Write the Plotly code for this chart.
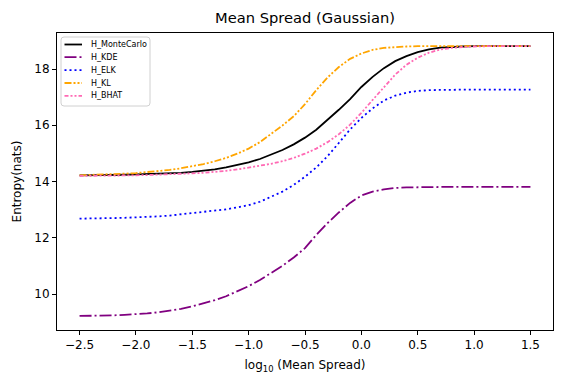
import plotly.graph_objects as go

x = [round(-2.5 + 0.1 * i, 1) for i in range(41)]

h_mc = [14.22, 14.22, 14.23, 14.23, 14.24, 14.25, 14.26, 14.27, 14.29, 14.31,
        14.34, 14.38, 14.43, 14.50, 14.58, 14.68, 14.80, 14.95, 15.12, 15.32,
        15.56, 15.84, 16.18, 16.55, 16.93, 17.36, 17.72, 18.03, 18.28, 18.46,
        18.60, 18.70, 18.76, 18.79, 18.80, 18.81, 18.81, 18.81, 18.81, 18.81, 18.81]
h_kde = [9.22, 9.22, 9.23, 9.24, 9.26, 9.28, 9.31, 9.35, 9.40, 9.47,
         9.56, 9.66, 9.78, 9.92, 10.09, 10.28, 10.50, 10.74, 11.00, 11.30,
         11.63, 12.10, 12.52, 12.90, 13.24, 13.50, 13.64, 13.72, 13.77, 13.79,
         13.80, 13.81, 13.81, 13.81, 13.81, 13.81, 13.81, 13.81, 13.81, 13.81, 13.81]
h_elk = [12.68, 12.68, 12.69, 12.70, 12.71, 12.72, 12.74, 12.76, 12.79, 12.83,
         12.87, 12.91, 12.96, 13.01, 13.08, 13.16, 13.28, 13.45, 13.64, 13.88,
         14.17, 14.50, 14.90, 15.37, 15.85, 16.26, 16.60, 16.88, 17.05, 17.16,
         17.22, 17.25, 17.26, 17.27, 17.27, 17.27, 17.27, 17.27, 17.27, 17.27, 17.27]
h_kl = [14.22, 14.23, 14.24, 14.26, 14.28, 14.30, 14.33, 14.37, 14.41, 14.47,
        14.54, 14.62, 14.72, 14.84, 14.99, 15.17, 15.40, 15.68, 15.99, 16.32,
        16.75, 17.25, 17.70, 18.07, 18.36, 18.55, 18.68, 18.75, 18.78, 18.80,
        18.81, 18.81, 18.81, 18.81, 18.81, 18.81, 18.81, 18.81, 18.81, 18.81, 18.81]
h_bhat = [14.20, 14.20, 14.21, 14.21, 14.22, 14.22, 14.23, 14.24, 14.25, 14.27,
          14.29, 14.31, 14.34, 14.38, 14.43, 14.49, 14.55, 14.63, 14.72, 14.84,
          14.99, 15.17, 15.40, 15.68, 16.02, 16.44, 16.90, 17.37, 17.80, 18.15,
          18.40, 18.58, 18.69, 18.75, 18.78, 18.80, 18.81, 18.81, 18.81, 18.81, 18.81]

x_ticks = [-2.5, -2.0, -1.5, -1.0, -0.5, 0.0, 0.5, 1.0, 1.5]
y_ticks = [10, 12, 14, 16, 18]

series = [
    ("H_MonteCarlo", h_mc, "black", "solid"),
    ("H_KDE", h_kde, "purple", "12px,3px,2px,3px"),
    ("H_ELK", h_elk, "blue", "2px,3px"),
    ("H_KL", h_kl, "orange", "7px,2px,2px,2px,2px,2px"),
    ("H_BHAT", h_bhat, "hotpink", "4px,2px,2px,2px,2px,2px"),
]

W, H = 563, 387
L, R, T, B = 57, 10, 33, 57
PW, PH = W - L - R, H - T - B


def px(xp):
    return (xp - L) / PW


def py(yp):
    return 1 - (yp - T) / PH


fig = go.Figure()
for name, ys, color, dash in series:
    fig.add_trace(go.Scatter(x=x, y=ys, mode="lines", name=name, showlegend=False,
                             hoverinfo="skip",
                             line=dict(color=color, width=1.8, dash=dash)))

# compact legend drawn in the plot's corner (matplotlib style)
shapes = []
annotations = []
bx0, bx1, by0, by1, r = 61, 150, 37, 106, 3
path = (f"M {px(bx0 + r)},{py(by0)} L {px(bx1 - r)},{py(by0)} "
        f"Q {px(bx1)},{py(by0)} {px(bx1)},{py(by0 + r)} "
        f"L {px(bx1)},{py(by1 - r)} Q {px(bx1)},{py(by1)} {px(bx1 - r)},{py(by1)} "
        f"L {px(bx0 + r)},{py(by1)} Q {px(bx0)},{py(by1)} {px(bx0)},{py(by1 - r)} "
        f"L {px(bx0)},{py(by0 + r)} Q {px(bx0)},{py(by0)} {px(bx0 + r)},{py(by0)} Z")
shapes.append(dict(type="path", xref="paper", yref="paper", path=path,
                   line=dict(color="#d0d0d0", width=1), fillcolor="rgba(255,255,255,0.8)",
                   layer="above"))
row_y = [44.5, 57.2, 70.1, 83.0, 95.9]
for (name, ys, color, dash), yy in zip(series, row_y):
    shapes.append(dict(type="line", xref="paper", yref="paper",
                       x0=px(64.5), x1=px(82), y0=py(yy), y1=py(yy),
                       line=dict(color=color, width=1.8, dash=dash), layer="above"))
    annotations.append(dict(text=name, xref="paper", yref="paper", x=px(89), y=py(yy),
                            xanchor="left", yanchor="middle", showarrow=False,
                            font=dict(size=8, color="black")))

axis_common = dict(showline=True, linecolor="black", linewidth=1, mirror=True,
                   ticks="outside", ticklen=4, tickcolor="black", showgrid=False,
                   zeroline=False, automargin=False, tickfont=dict(size=12, color="black"))

fig.update_layout(
    width=W, height=H,
    margin=dict(l=L, r=R, t=T, b=B),
    paper_bgcolor="white", plot_bgcolor="white",
    font=dict(family="DejaVu Sans", color="black"),
    title=dict(text="Mean Spread (Gaussian)", x=(L + PW / 2) / W, xanchor="center",
               y=1 - 18 / H, yanchor="middle", font=dict(size=14.7)),
    xaxis=dict(range=[-2.7, 1.7], tickvals=x_ticks, tickformat=".1f",
               title=dict(text="log<sub>10</sub> (Mean Spread)", font=dict(size=12), standoff=9),
               **axis_common),
    yaxis=dict(range=[8.72, 19.28], tickvals=y_ticks,
               title=dict(text="Entropy(nats)", font=dict(size=12), standoff=10),
               **axis_common),
    shapes=shapes,
    annotations=annotations,
    showlegend=False,
)

fig.write_html("out.html", config={"displayModeBar": False},
               post_script="document.body.style.margin='0';document.body.style.padding='0';")
